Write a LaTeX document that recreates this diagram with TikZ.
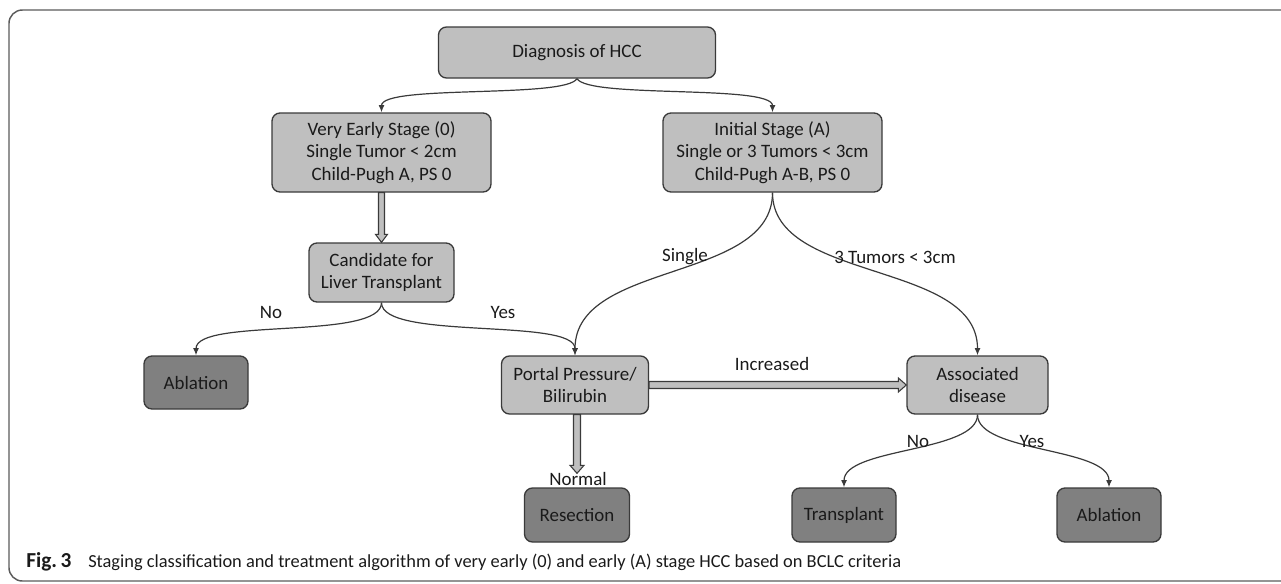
\documentclass[tikz,border=0pt]{standalone}
\usepackage{fontspec}
\setmainfont{Carlito}
\usetikzlibrary{calc,arrows.meta}
\definecolor{lightbox}{HTML}{BFBFBF}
\definecolor{darkbox}{HTML}{808080}
\definecolor{edge}{HTML}{3A3A3A}
\definecolor{txt}{HTML}{1A1A1A}
\definecolor{framec}{HTML}{5A5A5A}
\tikzset{
  box/.style 2 args={draw=edge, line width=1pt, rounded corners=6pt, inner sep=0pt,
    align=center, text=txt, font=\fontsize{14.2}{16.8}\selectfont,
    minimum width=#1*0.75pt, minimum height=#2*0.75pt},
  lbox/.style={fill=lightbox},
  dbox/.style={fill=darkbox},
  conn/.style={draw=edge, line width=0.9pt, -{Latex[length=5.5pt,width=4.5pt]}},
  harrow/.style={fill=lightbox, draw=edge, line width=0.8pt, line join=miter},
  lbl/.style={text=txt, font=\fontsize{14.2}{16.8}\selectfont, inner sep=0pt}
}
\begin{document}
\begin{tikzpicture}[x=0.75pt,y=-0.75pt]
\useasboundingbox (0,0) rectangle (1281,583);
\begin{scope}
\clip (0,0) rectangle (1281,583);
\draw[framec, line width=1.1pt, rounded corners=10pt] (9,10) rectangle (1300,581);
\end{scope}

% nodes
\node[box={277}{51}, lbox] (diag) at (577,52.5) {Diagnosis of HCC};
\node[box={219}{79}, lbox] (ve) at (381.5,152.5) {Very Early Stage (0)\\Single Tumor < 2cm\\Child-Pugh A, PS 0};
\node[box={219}{79}, lbox] (ini) at (772.5,152.5) {Initial Stage (A)\\Single or 3 Tumors < 3cm\\Child-Pugh A-B, PS 0};
\node[box={145}{59}, lbox] (cand) at (381.5,272.5) {Candidate for\\Liver Transplant};
\node[box={104}{53}, dbox] (abl1) at (196,382.5) {Ablation};
\node[box={147}{58}, lbox] (port) at (575,385) {Portal Pressure/\\Bilirubin};
\node[box={141}{58}, lbox] (assoc) at (977.5,385) {Associated\\disease};
\node[box={105}{54}, dbox] (res) at (577,515) {Resection};
\node[box={104}{54}, dbox] (trans) at (844,515) {Transplant};
\node[box={104}{54}, dbox] (abl2) at (1109,515) {Ablation};

% curved connectors
\draw[conn] (diag.south) .. controls +(-12,20) and +(0,-28) .. (ve.north);
\draw[conn] (diag.south) .. controls +(12,20) and +(0,-28) .. (ini.north);
\draw[conn] (ini.south) .. controls +(0,90) and +(0,-95) .. (port.north);
\draw[conn] (ini.south) .. controls +(0,90) and +(0,-95) .. (assoc.north);
\draw[conn] (cand.south) .. controls +(0,38) and +(0,-38) .. (abl1.north);
\draw[conn] (cand.south) .. controls +(0,38) and +(0,-38) .. (port.north);
\draw[conn] (assoc.south) .. controls +(0,38) and +(0,-40) .. (trans.north);
\draw[conn] (assoc.south) .. controls +(0,38) and +(0,-40) .. (abl2.north);

% hollow arrows
\filldraw[harrow] ($(ve.south)+(-3,0)$) -- ($(cand.north)+(-3,-8)$) -- ($(cand.north)+(-6,-8)$)
  -- (cand.north) -- ($(cand.north)+(6,-8)$) -- ($(cand.north)+(3,-8)$) -- ($(ve.south)+(3,0)$) -- cycle;
\coordinate (resend) at ($(res.north)+(0,-14)$);
\filldraw[harrow] ($(port.south -| res.north)+(-3.5,0)$) -- ($(resend)+(-3.5,-8)$) -- ($(resend)+(-7,-8)$)
  -- (resend) -- ($(resend)+(7,-8)$) -- ($(resend)+(3.5,-8)$) -- ($(port.south -| res.north)+(3.5,0)$) -- cycle;
\filldraw[harrow] ($(port.east)+(0,-3.5)$) -- ($(assoc.west)+(-8,-3.5)$) -- ($(assoc.west)+(-8,-7)$)
  -- (assoc.west) -- ($(assoc.west)+(-8,7)$) -- ($(assoc.west)+(-8,3.5)$) -- ($(port.east)+(0,3.5)$) -- cycle;

% labels
\node[lbl] (lsingle) at (685,257) {Single};
\node[lbl] (l3t) at (895,257) {3 Tumors < 3cm};
\node[lbl] (lno1) at (271,312) {No};
\node[lbl] (lyes1) at (503,312) {Yes};
\node[lbl] (linc) at (772,364) {Increased};
\node[lbl] (lnorm) at (578,479) {Normal};
\node[lbl] (lno2) at (918,441) {No};
\node[lbl] (lyes2) at (1032,441) {Yes};

% caption
\node[anchor=base west, inner sep=0pt, text=txt, font=\fontsize{16}{18}\selectfont\bfseries] (figl) at (26,567) {Fig.\,3};
\node[anchor=base west, inner sep=0pt, text=txt, font=\fontsize{13.8}{16}\selectfont] (capt) at (88,567) {Staging classification and treatment algorithm of very early (0) and early (A) stage HCC based on BCLC criteria};
\end{tikzpicture}
\end{document}
